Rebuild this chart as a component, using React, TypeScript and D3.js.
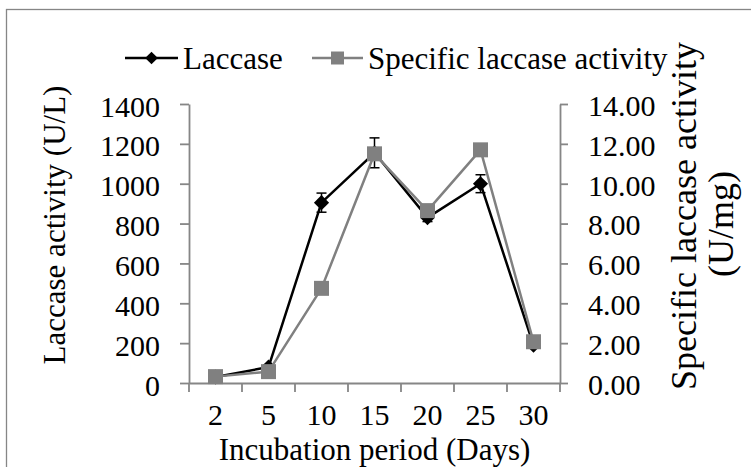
import React, { useEffect, useRef } from "react";
import * as d3 from "d3";

// incubation days (categories)
const days = ["2", "5", "10", "15", "20", "25", "30"];
// laccase activity, U/L (left axis)
const laccase = [30, 80, 905, 1155, 830, 1000, 190];
const laccaseErr = [6, 10, 48, 75, 20, 45, 10];
// specific laccase activity, U/mg (right axis)
const specific = [0.32, 0.57, 4.75, 11.5, 8.65, 11.7, 2.07];
const leftTicks = [0, 200, 400, 600, 800, 1000, 1200, 1400];
const rightTicks = [0, 2, 4, 6, 8, 10, 12, 14];

const FONT = "Liberation Serif, Times New Roman, serif";
const AXIS = "#868686";
const GRAY = "#808080";

export default function App() {
  const ref = useRef<SVGSVGElement>(null);
  useEffect(() => {
    const node = ref.current; if (!node) return;
    const svg = d3.select(node);
    svg.selectAll("*").remove();
    const W = 751, H = 467, m = { l: 189, r: 560, t: 104, b: 383 };

    const x = d3.scaleBand().domain(days).range([m.l, m.r]);
    const yL = d3.scaleLinear().domain([0, 1400]).range([m.b, m.t]);
    const yR = d3.scaleLinear().domain([0, 14]).range([m.b, m.t]);
    const cx = (d: string) => (x(d) as number) + x.bandwidth() / 2;

    svg.append("rect").attr("width", W).attr("height", H).attr("fill", "#fff");
    svg.append("rect").attr("x", 6.5).attr("y", 9.5).attr("width", W + 20).attr("height", H + 20)
      .attr("fill", "none").attr("stroke", AXIS).attr("stroke-width", 1.3);

    const styleAxis = (g: any, fs: number) => {
      g.attr("font-family", null);
      g.selectAll("path, line").attr("stroke", AXIS).attr("stroke-width", 1.8);
      g.selectAll("text").attr("font-family", FONT).attr("font-size", fs).attr("fill", "#000");
    };

    // left axis
    const gl = svg.append("g").attr("transform", `translate(${m.l},0)`)
      .call(d3.axisLeft(yL).tickValues(leftTicks).tickSize(9).tickSizeOuter(0).tickPadding(20).tickFormat(d3.format("d")));
    styleAxis(gl, 30);
    gl.selectAll("text").attr("dy", "0.4em");

    // right axis
    const gr = svg.append("g").attr("transform", `translate(${m.r},0)`)
      .call(d3.axisRight(yR).tickValues(rightTicks).tickSize(8).tickSizeOuter(0).tickPadding(20).tickFormat(d3.format(".2f")));
    styleAxis(gr, 30);
    gr.selectAll("text").attr("dy", "0.38em");

    // bottom axis: labels at category centres, ticks at boundaries
    const gb = svg.append("g").attr("transform", `translate(0,${m.b})`)
      .call(d3.axisBottom(x).tickSize(0).tickSizeOuter(0).tickPadding(21));
    styleAxis(gb, 30);
    const bounds = days.map((d) => x(d) as number).concat([m.r]);
    gb.selectAll("line.bound").data(bounds).join("line").attr("class", "bound")
      .attr("x1", (d) => d).attr("x2", (d) => d).attr("y1", 0).attr("y2", 9)
      .attr("stroke", AXIS).attr("stroke-width", 1.8);

    // laccase series
    const lineL = d3.line<number>().x((_, i) => cx(days[i])).y((d) => yL(d));
    svg.append("path").datum(laccase).attr("fill", "none").attr("stroke", "#000")
      .attr("stroke-width", 2.5).attr("stroke-linejoin", "round").attr("d", lineL);
    const eb = svg.append("g").attr("stroke", "#000").attr("stroke-width", 1.5);
    laccase.forEach((v, i) => {
      const px = cx(days[i]), e = laccaseErr[i];
      eb.append("line").attr("x1", px).attr("x2", px).attr("y1", yL(v - e)).attr("y2", yL(v + e));
      eb.append("line").attr("x1", px - 5).attr("x2", px + 5).attr("y1", yL(v - e)).attr("y2", yL(v - e));
      eb.append("line").attr("x1", px - 5).attr("x2", px + 5).attr("y1", yL(v + e)).attr("y2", yL(v + e));
    });
    const diamond = d3.symbol(d3.symbolSquare, 115)();
    svg.append("g").selectAll("path").data(laccase).join("path")
      .attr("d", diamond).attr("fill", "#000")
      .attr("transform", (d, i) => `translate(${cx(days[i])},${yL(d)}) rotate(45)`);

    // specific activity series
    const lineR = d3.line<number>().x((_, i) => cx(days[i])).y((d) => yR(d));
    svg.append("path").datum(specific).attr("fill", "none").attr("stroke", GRAY)
      .attr("stroke-width", 2.5).attr("stroke-linejoin", "round").attr("d", lineR);
    const square = d3.symbol(d3.symbolSquare, 225)();
    svg.append("g").selectAll("path").data(specific).join("path")
      .attr("d", square).attr("fill", GRAY)
      .attr("transform", (d, i) => `translate(${cx(days[i])},${yR(d)})`);

    // legend
    const lg = svg.append("g").attr("font-family", FONT).attr("font-size", 31);
    lg.append("line").attr("x1", 125).attr("x2", 178).attr("y1", 58).attr("y2", 58).attr("stroke", "#000").attr("stroke-width", 2.5);
    lg.append("path").attr("d", d3.symbol(d3.symbolSquare, 80)()).attr("fill", "#000").attr("transform", "translate(151.5,58) rotate(45)");
    lg.append("text").attr("x", 183).attr("y", 69).text("Laccase");
    lg.append("line").attr("x1", 312).attr("x2", 363).attr("y1", 58).attr("y2", 58).attr("stroke", GRAY).attr("stroke-width", 2.5);
    lg.append("path").attr("d", d3.symbol(d3.symbolSquare, 169)()).attr("fill", GRAY).attr("transform", "translate(337.5,58)");
    lg.append("text").attr("x", 368).attr("y", 69).text("Specific laccase activity");

    // axis titles
    svg.append("text").attr("transform", "translate(65,225) rotate(-90)").attr("text-anchor", "middle")
      .attr("font-family", FONT).attr("font-size", 31).text("Laccase activity (U/L)");
    svg.append("text").attr("x", (m.l + m.r) / 2).attr("y", 460).attr("text-anchor", "middle")
      .attr("font-family", FONT).attr("font-size", 31).text("Incubation period (Days)");
    const rt = svg.append("text").attr("transform", "translate(696,216) rotate(-90)").attr("text-anchor", "middle")
      .attr("font-family", FONT).attr("font-size", 36);
    rt.append("tspan").attr("x", 0).attr("y", 0).text("Specific laccase activity");
    rt.append("tspan").attr("x", -8).attr("y", 37).text("(U/mg)");
  }, []);
  return <svg ref={ref} width={751} height={467} style={{ position: "absolute", left: 0, top: 0, display: "block" }} />;
}
